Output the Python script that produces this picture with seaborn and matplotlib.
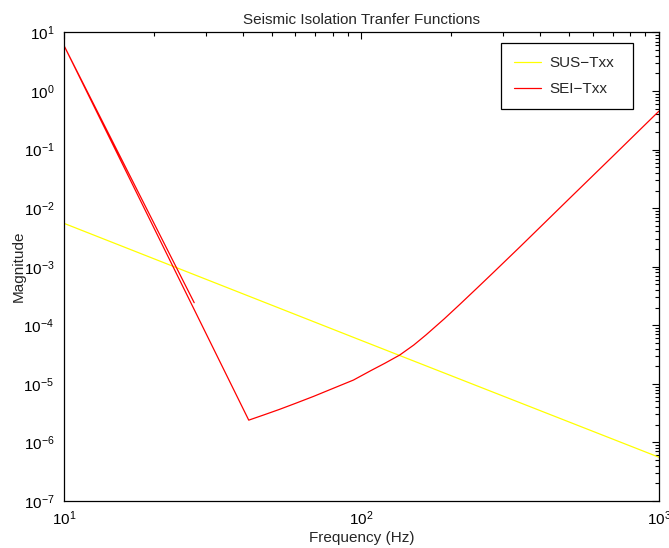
import numpy as np
import pandas as pd
import matplotlib
matplotlib.use("Agg")
import matplotlib.pyplot as plt
import seaborn as sns
from matplotlib.ticker import LogLocator, NullFormatter

# Data
sus_freq = [10, 100, 1000]
sus_mag = [5.5e-3, 5.5e-5, 5.6e-7]

sei_freq = [27.4, 10, 41.8, 47, 53, 60, 69, 80, 94, 108, 120, 134.5, 150, 165,
            190, 214, 245, 277, 341, 400, 500, 700, 1000]
sei_mag = [2.43e-4, 5.96, 2.4e-6, 2.95e-6, 3.66e-6, 4.64e-6, 6.1e-6, 8.3e-6,
           1.16e-5, 1.7e-5, 2.25e-5, 3.1e-5, 4.6e-5, 6.86e-5, 1.29e-4, 2.26e-4,
           4.33e-4, 7.85e-4, 2.17e-3, 4.79e-3, 1.45e-2, 7.65e-2, 0.45]

series_names = ["SUS\u2212Txx", "SEI\u2212Txx"]
series_colors = ["#FFFF00", "#FF0000"]

df = pd.DataFrame({
    "freq": sus_freq + sei_freq,
    "mag": sus_mag + sei_mag,
    "series": [series_names[0]] * len(sus_freq) + [series_names[1]] * len(sei_freq),
})

sns.set_style("white")
plt.rcParams["font.family"] = ["Liberation Sans", "DejaVu Sans"]
plt.rcParams["mathtext.fontset"] = "custom"
plt.rcParams["mathtext.rm"] = "Liberation Sans"
plt.rcParams["mathtext.it"] = "Liberation Sans:italic"
plt.rcParams["mathtext.bf"] = "Liberation Sans:bold"

fig = plt.figure(figsize=(6.69, 5.48), dpi=100)
ax = fig.add_axes([0.0957, 0.0858, 0.889, 0.855])

sns.lineplot(data=df, x="freq", y="mag", hue="series", sort=False, estimator=None,
             palette=dict(zip(series_names, series_colors)), linewidth=0.9, ax=ax)

ax.set_xscale("log")
ax.set_yscale("log")
ax.set_xlim(10, 1000)
ax.set_ylim(1e-7, 1e1)

ax.yaxis.set_major_locator(LogLocator(base=10, numticks=20))
ax.yaxis.set_minor_locator(LogLocator(base=10, subs=np.arange(2, 10), numticks=20))
ax.yaxis.set_minor_formatter(NullFormatter())
ax.xaxis.set_minor_formatter(NullFormatter())

ax.tick_params(which="both", direction="in", top=True, right=True, colors="black",
               labelsize=11, width=0.8)
ax.tick_params(which="major", length=5)
ax.tick_params(which="minor", length=3)
ax.tick_params(axis="x", which="major", pad=6)
ax.tick_params(axis="y", which="major", pad=7)
for s in ax.spines.values():
    s.set_color("black")
    s.set_linewidth(0.9)

ax.set_title("Seismic Isolation Tranfer Functions", fontsize=11, pad=6)
ax.set_xlabel("Frequency (Hz)", fontsize=11, labelpad=2)
ax.set_ylabel("Magnitude", fontsize=11, labelpad=-1.5)

leg = ax.legend(loc="upper left", bbox_to_anchor=(0.7345, 0.8367, 0.2218, 0.1409),
                mode="expand", fontsize=11, frameon=True, fancybox=False,
                edgecolor="black", framealpha=1, handlelength=1.8,
                handletextpad=0.5, borderpad=0.85,
                labelspacing=0.8, borderaxespad=0, title=None)
leg.get_frame().set_linewidth(0.9)

fig.savefig("out.png", dpi=100)
